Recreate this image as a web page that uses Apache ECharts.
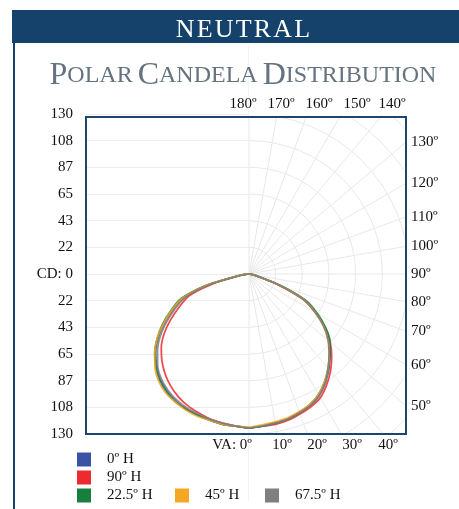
<!DOCTYPE html>
<html>
<head>
<meta charset="utf-8">
<script src="https://cdn.jsdelivr.net/npm/echarts@6/dist/echarts.min.js"></script>
<style>
html,body{margin:0;padding:0;background:#fff;}
#c{width:459px;height:509px;}
</style>
</head>
<body>
<div id="c"></div>
<script>
// ---- data ----
var vertAngles = [0,5,10,15,20,25,30,35,40,45,50,55,60,65,70,75,80,85,90];
var seriesNames = ['0º H','90º H','22.5º H','45º H','67.5º H'];
var h0Right   = [125,124,123,122,120,118,114,108,101,93,85,75,63,50,26,8,3,1,0];
var h0Left    = [125,124,124,123,122,121,119,116,112,106,99,90,79,68,57,35,9,2,0];
var h90Right  = [125,124,124,123,121,119,116,110,103,95,86,75,62,48,24,7,3,1,0];
var h90Left   = [125,124,123,122,120,118,115,111,106,100,93,84,73,62,52,30,8,2,0];
var h225Right = [125,124,123,122,120,117,113,107,100,93,86,76,64,51,27,8,3,1,0];
var h225Left  = [125,124,124,123,122,121,120,117,113,107,100,91,81,70,59,37,10,2,0];
var h45Right  = [124,123,122,121,119,117,113,107,100,92,84,74,62,49,25,7,3,1,0];
var h45Left   = [125,124,124,123,123,122,120,118,114,108,100,91,80,69,58,36,9,2,0];
var h675Right = [125,124,123,122,120,118,114,108,100,92,84,74,62,49,25,8,3,1,0];
var h675Left  = [125,124,123,122,121,120,118,115,111,105,97,88,77,66,55,33,9,2,0];
var cdMax = 130;
var cdSteps = 6;
var topLabels = ['180º','170º','160º','150º','140º'];
var rightLabelAngles = [130,120,110,100,90,80,70,60,50];
var bottomLabels = ['VA: 0º','10º','20º','30º','40º'];

// ---- layout ----
var cx = 249, cy = 274, R = 160;
var box = {x:86, y:117, w:320, h:317};
var topLabelX = [243, 281, 319, 357, 392];
var bottomLabelX = [252, 282, 317, 352, 388];
var colors = ['#3a53a4','#ec2a30','#17803d','#f5a623','#7f7f7f'];
var serif = '"Liberation Serif", "DejaVu Serif", serif';
var HS = '\u200A';

function buildSeries(left, right){
  var d = [];
  for (var i = vertAngles.length-1; i >= 1; i--) d.push([left[i], 360 - vertAngles[i]]);
  d.push([(left[0]+right[0])/2, 0]);
  for (var j = 1; j < vertAngles.length; j++) d.push([right[j], vertAngles[j]]);
  return d;
}
var allData = [
  buildSeries(h0Left, h0Right),
  buildSeries(h90Left, h90Right),
  buildSeries(h225Left, h225Right),
  buildSeries(h45Left, h45Right),
  buildSeries(h675Left, h675Right)
];

var chart = echarts.init(document.getElementById('c'));
var gridR = 228;
var gridMax = gridR * cdMax / R;

var graphics = [];
// white masks hiding polar grid outside the plot box
graphics.push({type:'rect', shape:{x:cx, y:0, width:459-cx, height:box.y-1}, style:{fill:'#fff'}, z:5});
graphics.push({type:'rect', shape:{x:box.x+box.w+1, y:0, width:60, height:509}, style:{fill:'#fff'}, z:5});
graphics.push({type:'rect', shape:{x:cx, y:box.y+box.h+1, width:459-cx, height:80}, style:{fill:'#fff'}, z:5});
// header bar
graphics.push({type:'rect', shape:{x:12, y:10, width:447, height:33}, style:{fill:'#14426b'}, z:8});
// left border line
graphics.push({type:'rect', shape:{x:13, y:43, width:2, height:466}, style:{fill:'#14426b'}, z:8});
// plot box
graphics.push({type:'rect', shape:{x:box.x, y:box.y, width:box.w, height:box.h}, style:{fill:'none', stroke:'#1b4670', lineWidth:2}, z:50});
// top labels
topLabels.forEach(function(t,i){
  graphics.push({type:'text', x:topLabelX[i], y:104, style:{text:t, font:'15px '+serif, fill:'#111', align:'center', verticalAlign:'middle'}, z:60});
});
// right labels
rightLabelAngles.forEach(function(a){
  var y = cy - (box.x + box.w - cx) * Math.tan((a-90)*Math.PI/180);
  graphics.push({type:'text', x:411, y:y, style:{text:a+'º', font:'15px '+serif, fill:'#111', align:'left', verticalAlign:'middle'}, z:60});
});
// bottom labels
bottomLabels.forEach(function(t,i){
  graphics.push({type:'text', x:bottomLabelX[i], y:445, style:{text:t, font:'15px '+serif, fill:'#111', align: i===0 ? 'right':'center', verticalAlign:'middle'}, z:60});
});

var legendPos = [[77,452],[77,470],[77,488],[175,488],[265,488]];
var legends = seriesNames.map(function(n,i){
  return {data:[n], left:legendPos[i][0], top:legendPos[i][1], icon:'rect', itemWidth:14, itemHeight:14,
    selectedMode:false, padding:0, z:60,
    textStyle:{fontFamily:serif, fontSize:15, color:'#111', padding:[0,0,0,11]}};
});

var option = {
  animation:false,
  title:[
    {text:'N'+HS+'E'+HS+'U'+HS+'T'+HS+'R'+HS+'A'+HS+'L', left:238, top:12, textAlign:'center', z:60,
     textStyle:{fontFamily:serif, fontSize:26, fontWeight:'normal', color:'#fff'}},
    {text:'{a|P}{b|OLAR} {a|C}{b|ANDELA} {a|D}{b|ISTRIBUTION}', left:238, top:55, textAlign:'center', z:60,
     textStyle:{rich:{a:{fontFamily:serif, fontSize:32, fontWeight:'normal', color:'#64737f'}, b:{fontFamily:serif, fontSize:24, fontWeight:'normal', color:'#64737f'}}}}
  ],
  legend: legends,
  grid:{left:box.x, right:459-cx, top:cy-R, height:2*R, show:false},
  xAxis:{type:'value', min:0, max:1, show:false},
  yAxis:{type:'value', min:-cdMax, max:cdMax, interval:cdMax/cdSteps,
    axisLine:{show:false}, axisTick:{show:false},
    axisLabel:{margin:13, fontFamily:serif, fontSize:15, color:'#111',
      formatter:function(v){ var r = Math.round(Math.abs(v)); return r===0 ? 'CD: 0' : String(r); }},
    splitLine:{lineStyle:{color:'#ececec', width:1}}
  },
  polar:[
    {center:[cx,cy], radius:gridR},
    {center:[cx,cy], radius:R}
  ],
  angleAxis:[
    {polarIndex:0, type:'value', min:0, max:180, interval:10, startAngle:90, endAngle:-90, clockwise:true,
      axisLine:{show:false}, axisTick:{show:false}, axisLabel:{show:false},
      splitLine:{show:true, lineStyle:{color:'#e8e8e8', width:1}}},
    {polarIndex:1, type:'value', min:0, max:360, startAngle:-90, clockwise:false, show:false}
  ],
  radiusAxis:[
    {polarIndex:0, type:'value', min:0, max:gridMax, interval:cdMax/cdSteps,
      axisLine:{show:false}, axisTick:{show:false}, axisLabel:{show:false},
      splitLine:{show:true, lineStyle:{color:'#e8e8e8', width:1}}},
    {polarIndex:1, type:'value', min:0, max:cdMax, show:false}
  ],
  graphic: graphics,
  series: seriesNames.map(function(n,i){
    return {name:n, type:'line', coordinateSystem:'polar', polarIndex:1, data:allData[i],
      showSymbol:false, smooth:0.25, z:10, color:colors[i],
      lineStyle:{width:1.8, color:colors[i], opacity:0.85}};
  })
};
chart.setOption(option);
</script>
</body>
</html>
